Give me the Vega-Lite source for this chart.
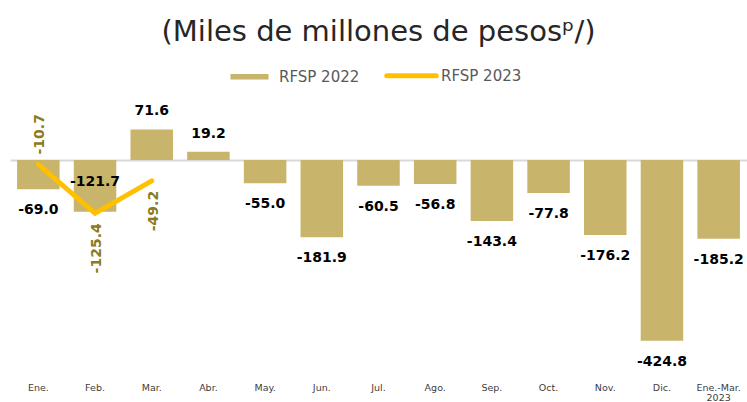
{
  "$schema": "https://vega.github.io/schema/vega-lite/v6.json",
  "width": 737,
  "height": 279,
  "autosize": "none",
  "padding": {"left": 10, "top": 96, "right": 0, "bottom": 27},
  "background": "white",
  "title": {
    "text": "(Miles de millones de pesosᵖ/)",
    "fontSize": 29,
    "font": "DejaVu Sans",
    "fontWeight": "normal",
    "color": "#262626",
    "anchor": "middle",
    "frame": "group",
    "offset": 21
  },
  "config": {
    "view": {"stroke": null},
    "locale": {"number": {"decimal": ".", "thousands": ",", "grouping": [3], "currency": ["$", ""], "minus": "-"}}
  },
  "data": {
    "values": [
      {"mes": "Ene.", "serie": "RFSP 2022", "valor": -69.0},
      {"mes": "Feb.", "serie": "RFSP 2022", "valor": -121.7},
      {"mes": "Mar.", "serie": "RFSP 2022", "valor": 71.6},
      {"mes": "Abr.", "serie": "RFSP 2022", "valor": 19.2},
      {"mes": "May.", "serie": "RFSP 2022", "valor": -55.0},
      {"mes": "Jun.", "serie": "RFSP 2022", "valor": -181.9},
      {"mes": "Jul.", "serie": "RFSP 2022", "valor": -60.5},
      {"mes": "Ago.", "serie": "RFSP 2022", "valor": -56.8},
      {"mes": "Sep.", "serie": "RFSP 2022", "valor": -143.4},
      {"mes": "Oct.", "serie": "RFSP 2022", "valor": -77.8},
      {"mes": "Nov.", "serie": "RFSP 2022", "valor": -176.2},
      {"mes": "Dic.", "serie": "RFSP 2022", "valor": -424.8},
      {"mes": "Ene.-Mar. 2023", "serie": "RFSP 2022", "valor": -185.2},
      {"mes": "Ene.", "serie": "RFSP 2023", "valor": -10.7},
      {"mes": "Feb.", "serie": "RFSP 2023", "valor": -125.4},
      {"mes": "Mar.", "serie": "RFSP 2023", "valor": -49.2}
    ]
  },
  "encoding": {
    "x": {
      "field": "mes",
      "type": "nominal",
      "sort": null,
      "scale": {"paddingInner": 0.25, "paddingOuter": 0.125},
      "axis": {
        "title": null,
        "ticks": false,
        "domain": false,
        "labelAngle": 0,
        "labelFontSize": 9.5,
        "labelFont": "DejaVu Sans",
        "labelColor": "#404040",
        "labelPadding": 7,
        "labelLineHeight": 10,
        "labelExpr": "datum.value == 'Ene.-Mar. 2023' ? ['Ene.-Mar.', '2023'] : datum.value"
      }
    }
  },
  "layer": [
    {
      "transform": [{"filter": "datum.serie == 'RFSP 2022'"}],
      "mark": {"type": "bar"},
      "encoding": {
        "y": {
          "field": "valor",
          "type": "quantitative",
          "scale": {"domain": [-505, 150], "nice": false, "zero": false},
          "axis": {
            "values": [0],
            "grid": true,
            "gridColor": "#D9D9D9",
            "gridWidth": 2,
            "labels": false,
            "ticks": false,
            "domain": false,
            "title": null
          }
        },
        "y2": {"datum": 0},
        "color": {
          "field": "serie",
          "type": "nominal",
          "scale": {"domain": ["RFSP 2022", "RFSP 2023"], "range": ["#C9B46B", "#FFC000"]},
          "legend": {
            "orient": "none",
            "legendX": 232,
            "legendY": -28,
            "direction": "horizontal",
            "title": null,
            "labelFontSize": 15,
            "labelFont": "DejaVu Sans",
            "labelColor": "#595959",
            "labelOffset": 22,
            "columnPadding": 16,
            "symbolSize": 1444,
            "encode": {
              "symbols": {
                "update": {
                  "shape": {"signal": "datum.label == 'RFSP 2022' ? 'M-1,-0.15H1V0.15H-1Z' : 'M-1.3,0H1.3'"},
                  "fill": {"signal": "datum.label == 'RFSP 2022' ? '#C9B46B' : 'transparent'"},
                  "stroke": {"signal": "datum.label == 'RFSP 2022' ? 'transparent' : '#FFC000'"},
                  "strokeWidth": {"signal": "datum.label == 'RFSP 2022' ? 0 : 5"},
                  "strokeCap": {"value": "round"},
                  "opacity": {"value": 1}
                }
              }
            }
          }
        }
      }
    },
    {
      "transform": [{"filter": "datum.serie == 'RFSP 2023'"}],
      "mark": {"type": "line", "strokeWidth": 5, "strokeCap": "round", "strokeJoin": "miter"},
      "encoding": {
        "y": {"field": "valor", "type": "quantitative"},
        "color": {"field": "serie", "type": "nominal"}
      }
    },
    {
      "transform": [{"filter": "datum.serie == 'RFSP 2022' && datum.valor > 0"}],
      "mark": {"type": "text", "dy": -18, "baseline": "middle", "font": "DejaVu Sans", "fontWeight": "bold", "fontSize": 14, "color": "#000000"},
      "encoding": {
        "y": {"field": "valor", "type": "quantitative"},
        "text": {"field": "valor", "type": "quantitative", "format": ".1f"}
      }
    },
    {
      "transform": [{"filter": "datum.serie == 'RFSP 2022' && datum.valor < 0 && datum.mes != 'Feb.'"}],
      "mark": {"type": "text", "dy": 21, "baseline": "middle", "font": "DejaVu Sans", "fontWeight": "bold", "fontSize": 14, "color": "#000000"},
      "encoding": {
        "y": {"field": "valor", "type": "quantitative"},
        "text": {"field": "valor", "type": "quantitative", "format": ".1f"}
      }
    },
    {
      "transform": [{"filter": "datum.serie == 'RFSP 2022' && datum.mes == 'Feb.'"}],
      "mark": {"type": "text", "dy": -30, "baseline": "middle", "font": "DejaVu Sans", "fontWeight": "bold", "fontSize": 14, "color": "#000000"},
      "encoding": {
        "y": {"field": "valor", "type": "quantitative"},
        "text": {"field": "valor", "type": "quantitative", "format": ".1f"}
      }
    },
    {
      "transform": [{"filter": "datum.serie == 'RFSP 2023' && datum.mes == 'Ene.'"}],
      "mark": {"type": "text", "angle": 270, "align": "left", "dx": 10, "dy": 2, "baseline": "middle", "font": "DejaVu Sans", "fontWeight": "bold", "fontSize": 14, "color": "#8C7A20"},
      "encoding": {
        "y": {"field": "valor", "type": "quantitative"},
        "text": {"field": "valor", "type": "quantitative", "format": ".1f"}
      }
    },
    {
      "transform": [{"filter": "datum.serie == 'RFSP 2023' && datum.mes != 'Ene.'"}],
      "mark": {"type": "text", "angle": 270, "align": "right", "dx": -10, "dy": 2, "baseline": "middle", "font": "DejaVu Sans", "fontWeight": "bold", "fontSize": 14, "color": "#8C7A20"},
      "encoding": {
        "y": {"field": "valor", "type": "quantitative"},
        "text": {"field": "valor", "type": "quantitative", "format": ".1f"}
      }
    }
  ]
}
